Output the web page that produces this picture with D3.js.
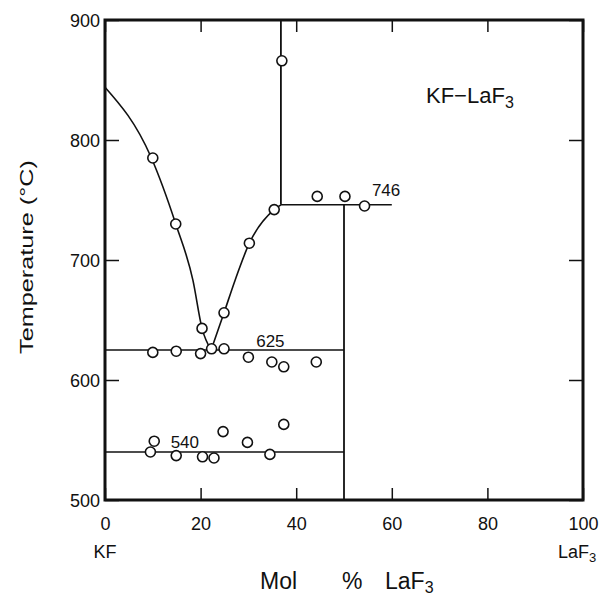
<!DOCTYPE html>
<html>
<head>
<meta charset="utf-8">
<script src="https://cdn.jsdelivr.net/npm/d3@7"></script>
<style>
	body { margin: 0; background: #fff; }
	svg text { font-family: "Liberation Sans", Arial, sans-serif; fill: #111; }
</style>
</head>
<body>
<div id="chart"></div>
<script>
(function() {
	// liquidus branches (mol % LaF3, temperature C)
	let liquidusKF = [[0, 844], [9.6, 786], [14.8, 730], [18.4, 683], [20.3, 643], [22.2, 625]];
	let liquidusCompound = [[22.2, 625], [24.9, 656], [27.2, 683], [30.2, 714], [35.4, 742], [36.8, 746]];

	// horizontal isotherms and vertical phase boundaries
	let isotherms = [
		{ t: 625, from: 0, to: 50 },
		{ t: 540, from: 0, to: 50 },
		{ t: 746, from: 36.8, to: 60 }
	];
	let boundaries = [
		{ x: 36.8, from: 746, to: 900 },
		{ x: 50, from: 500, to: 746 }
	];

	// measured points
	let points = [
		[10, 785], [14.8, 730], [20.3, 643], [24.9, 656], [30.2, 714], [35.4, 742],
		[37, 866], [44.4, 753], [50.2, 753], [54.3, 745],
		[10, 623], [14.9, 624], [20, 622], [22.3, 626], [24.9, 626], [30, 619],
		[34.9, 615], [37.4, 611], [44.2, 615],
		[10.3, 549], [24.7, 557], [29.8, 548], [37.4, 563],
		[9.5, 540], [14.9, 537], [20.4, 536], [22.8, 535], [34.5, 538]
	];

	let labels = [
		{ text: '746', x: 58.8, t: 753 },
		{ text: '625', x: 34.6, t: 627.5 },
		{ text: '540', x: 16.7, t: 543.3 }
	];

	let xTicks = [0, 20, 40, 60, 80, 100];
	let yTicks = [500, 600, 700, 800, 900];

	let svg = d3.select('#chart')
		.append('svg')
		.attr('width', 609)
		.attr('height', 599);

	let x = d3.scaleLinear().domain([0, 100]).range([105, 583]);
	let y = d3.scaleLinear().domain([500, 900]).range([500, 20]);

	// axes with inward ticks
	svg.append('g')
		.attr('transform', 'translate(0,' + y(500) + ')')
		.call(d3.axisBottom(x).tickValues(xTicks).tickSize(-12).tickPadding(17).tickFormat(d3.format('d')));
	let left = svg.append('g')
		.attr('transform', 'translate(' + x(0) + ',0)')
		.call(d3.axisLeft(y).tickValues(yTicks).tickSize(-14).tickPadding(5));
	svg.append('g')
		.attr('transform', 'translate(' + x(100) + ',0)')
		.call(d3.axisRight(y).tickValues(yTicks).tickSize(-14).tickFormat(''));
	svg.append('g')
		.attr('transform', 'translate(0,' + y(900) + ')')
		.call(d3.axisTop(x).tickValues(xTicks).tickSize(-12).tickFormat(''));

	svg.selectAll('.domain').remove();
	svg.selectAll('.tick line').attr('stroke', '#111').attr('stroke-width', 1.5);
	svg.selectAll('.tick text').attr('font-size', 18).attr('fill', '#111');
	left.selectAll('.tick text').attr('dy', '0.35em');

	svg.append('rect')
		.attr('x', x(0))
		.attr('y', y(900))
		.attr('width', x(100) - x(0))
		.attr('height', y(500) - y(900))
		.attr('fill', 'none')
		.attr('stroke', '#111')
		.attr('stroke-width', 3);

	let line = d3.line()
		.x(d => x(d[0]))
		.y(d => y(d[1]))
		.curve(d3.curveMonotoneX);

	[liquidusKF, liquidusCompound].forEach(branch => {
		svg.append('path')
			.datum(branch)
			.attr('d', line)
			.attr('fill', 'none')
			.attr('stroke', '#111')
			.attr('stroke-width', 1.6);
	});

	svg.selectAll('.iso')
		.data(isotherms)
		.enter()
		.append('line')
		.attr('x1', d => x(d.from))
		.attr('x2', d => x(d.to))
		.attr('y1', d => y(d.t))
		.attr('y2', d => y(d.t))
		.attr('stroke', '#111')
		.attr('stroke-width', 1.6);

	svg.selectAll('.bound')
		.data(boundaries)
		.enter()
		.append('line')
		.attr('x1', d => x(d.x))
		.attr('x2', d => x(d.x))
		.attr('y1', d => y(d.from))
		.attr('y2', d => y(d.to))
		.attr('stroke', '#111')
		.attr('stroke-width', 1.8);

	svg.selectAll('.pt')
		.data(points)
		.enter()
		.append('circle')
		.attr('cx', d => x(d[0]))
		.attr('cy', d => y(d[1]))
		.attr('r', 5)
		.attr('fill', '#fff')
		.attr('stroke', '#111')
		.attr('stroke-width', 1.6);

	svg.selectAll('.lab')
		.data(labels)
		.enter()
		.append('text')
		.attr('x', d => x(d.x))
		.attr('y', d => y(d.t))
		.attr('text-anchor', 'middle')
		.attr('font-size', 17)
		.text(d => d.text);

	// end member names under the axis
	svg.append('text')
		.attr('x', x(0))
		.attr('y', 558)
		.attr('text-anchor', 'middle')
		.attr('font-size', 18)
		.text('KF');
	let laf = svg.append('text')
		.attr('x', 558)
		.attr('y', 558)
		.attr('font-size', 18);
	laf.append('tspan').text('LaF');
	laf.append('tspan').attr('font-size', 13).attr('dy', 4).text('3');

	// system label
	let sys = svg.append('text')
		.attr('x', 426)
		.attr('y', 103)
		.attr('font-size', 22);
	sys.append('tspan').text('KF\u2212LaF');
	sys.append('tspan').attr('font-size', 16).attr('dy', 5).text('3');

	// axis titles
	svg.append('text')
		.attr('x', 260)
		.attr('y', 589)
		.attr('font-size', 23)
		.text('Mol');
	svg.append('text')
		.attr('x', 342)
		.attr('y', 589)
		.attr('font-size', 23)
		.text('%');
	let xt = svg.append('text')
		.attr('x', 385)
		.attr('y', 589)
		.attr('font-size', 23);
	xt.append('tspan').text('LaF');
	xt.append('tspan').attr('font-size', 16).attr('dy', 4).text('3');

	svg.append('text')
		.attr('transform', 'translate(33,257) rotate(-90) scale(1.33,1)')
		.attr('text-anchor', 'middle')
		.attr('font-size', 19)
		.text('Temperature (\u00B0C)');
})();
</script>
</body>
</html>
